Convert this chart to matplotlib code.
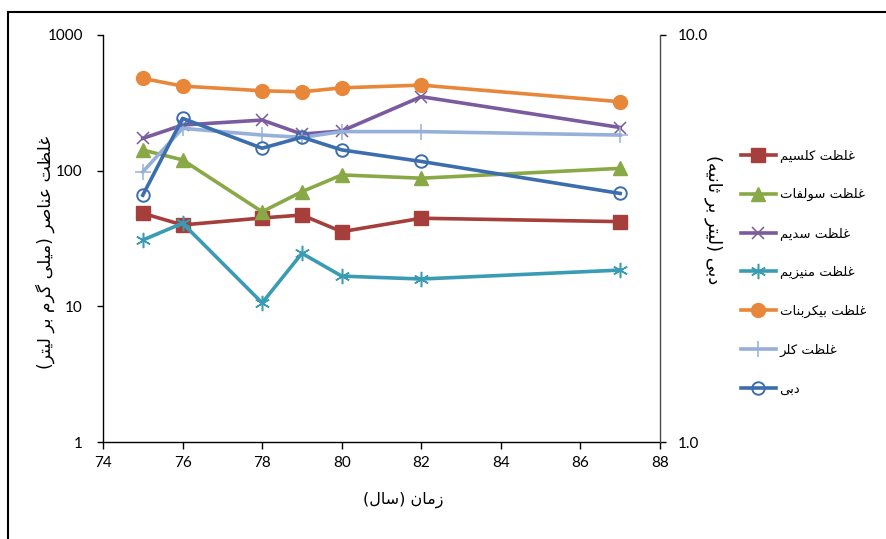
import matplotlib
matplotlib.use("Agg")
import matplotlib.pyplot as plt
from matplotlib.lines import Line2D
from matplotlib.ticker import FixedLocator, FixedFormatter, NullLocator

# ---- data -------------------------------------------------------------
years = [75, 76, 78, 79, 80, 82, 87]
calcium = [48.5, 39.8, 44.8, 47.1, 35.5, 44.6, 42.1]
sulfate = [142, 120, 49.8, 70, 93, 88, 104]
sodium = [173, 217, 236, 186, 196, 351, 208]
magnesium = [30.8, 41, 10.6, 24.6, 16.7, 15.9, 18.5]
bicarbonate = [479, 420, 388, 381, 408, 427, 322]
chloride = [98, 205, 183, 176, 194, 194, 183]
discharge = [4.04, 6.24, 5.27, 5.61, 5.22, 4.89, 4.08]

x_ticks = [74, 76, 78, 80, 82, 84, 86, 88]
left_ticks = [1, 10, 100, 1000]
left_tick_labels = ["1", "10", "100", "1000"]
right_ticks = [1, 10]
right_tick_labels = ["1.0", "10.0"]

series_names = ["غلظت کلسیم", "غلظت سولفات", "غلظت سدیم", "غلظت منیزیم",
                "غلظت بیکربنات", "غلظت کلر", "دبی"]
x_title = "زمان (سال)"
left_title = "غلظت عناصر (میلی گرم بر لیتر)"
right_title = "دبی (لیتر بر ثانیه)"

# ---- minimal Arabic-script shaping (contextual forms + visual order) ----
FORMS = {
    'ا': ('\uFE8D', '\uFE8E', None, None),
    'ب': ('\uFE8F', '\uFE90', '\uFE91', '\uFE92'),
    'ت': ('\uFE95', '\uFE96', '\uFE97', '\uFE98'),
    'ث': ('\uFE99', '\uFE9A', '\uFE9B', '\uFE9C'),
    'د': ('\uFEA9', '\uFEAA', None, None),
    'ر': ('\uFEAD', '\uFEAE', None, None),
    'ز': ('\uFEAF', '\uFEB0', None, None),
    'س': ('\uFEB1', '\uFEB2', '\uFEB3', '\uFEB4'),
    'ص': ('\uFEB9', '\uFEBA', '\uFEBB', '\uFEBC'),
    'ظ': ('\uFEC5', '\uFEC6', '\uFEC7', '\uFEC8'),
    'ع': ('\uFEC9', '\uFECA', '\uFECB', '\uFECC'),
    'غ': ('\uFECD', '\uFECE', '\uFECF', '\uFED0'),
    'ف': ('\uFED1', '\uFED2', '\uFED3', '\uFED4'),
    'ل': ('\uFEDD', '\uFEDE', '\uFEDF', '\uFEE0'),
    'م': ('\uFEE1', '\uFEE2', '\uFEE3', '\uFEE4'),
    'ن': ('\uFEE5', '\uFEE6', '\uFEE7', '\uFEE8'),
    'ه': ('\uFEE9', '\uFEEA', '\uFEEB', '\uFEEC'),
    'و': ('\uFEED', '\uFEEE', None, None),
    'ی': ('\uFBFC', '\uFBFD', '\uFBFE', '\uFBFF'),
    'ک': ('\uFB8E', '\uFB8F', '\uFB90', '\uFB91'),
    'گ': ('\uFB92', '\uFB93', '\uFB94', '\uFB95'),
}


def shape(text):
    def links_forward(c):
        return c in FORMS and FORMS[c][2] is not None

    out = []
    for i, c in enumerate(text):
        if c not in FORMS:
            out.append(c)
            continue
        prev = text[i - 1] if i > 0 else None
        nxt = text[i + 1] if i + 1 < len(text) else None
        jp = prev is not None and links_forward(prev)
        jn = nxt is not None and nxt in FORMS and links_forward(c)
        iso, fin, ini, med = FORMS[c]
        out.append(med if (jp and jn) else fin if jp else ini if jn else iso)
    visual = "".join(out)[::-1]
    return visual.translate(str.maketrans("()", ")("))


# ---- figure -------------------------------------------------------------
W, H = 886, 539
fig = plt.figure(figsize=(W / 100, H / 100), dpi=100)
fig.patch.set_facecolor("white")

L, R, T, B = 103, 660, 35, 442
ax = fig.add_axes([L / W, 1 - B / H, (R - L) / W, (B - T) / H])
ax2 = ax.twinx()

num_font = ["Lato", "DejaVu Sans"]
fa_font = ["DejaVu Sans"]

colors = {
    "ca": "#A63E3B", "so4": "#88A946", "na": "#7A5B9E", "mg": "#3A9BB4",
    "hco3": "#E8873A", "cl": "#96B0D9", "q": "#3C6EAD",
}
lw = 2.6

ax.plot(years, calcium, color=colors["ca"], lw=lw, marker="s", ms=9.5,
        mfc=colors["ca"], mec=colors["ca"], label=shape(series_names[0]), zorder=3)
ax.plot(years, sulfate, color=colors["so4"], lw=lw, marker="^", ms=10,
        mfc=colors["so4"], mec=colors["so4"], label=shape(series_names[1]), zorder=3)
ax.plot(years, sodium, color=colors["na"], lw=lw, marker="x", ms=9,
        mew=1.1, mec=colors["na"], label=shape(series_names[2]), zorder=3)
ax.plot(years, magnesium, color=colors["mg"], lw=lw, marker=(6, 2, 0), ms=11,
        mew=1.1, mec=colors["mg"], label=shape(series_names[3]), zorder=3)
ax.plot(years, bicarbonate, color=colors["hco3"], lw=lw, marker="o", ms=10,
        mfc=colors["hco3"], mec=colors["hco3"], label=shape(series_names[4]), zorder=3)
ax.plot(years, chloride, color=colors["cl"], lw=lw, marker="+", ms=11,
        mew=1.1, mec=colors["cl"], label=shape(series_names[5]), zorder=3)
ax2.plot(years, discharge, color=colors["q"], lw=lw, marker="o", ms=9,
         mfc="none", mec=colors["q"], mew=1.4, label=shape(series_names[6]), zorder=3)

# axes scales and ticks
ax.set_xlim(74, 88)
ax.set_yscale("log")
ax.set_ylim(1, 1000)
ax2.set_yscale("log")
ax2.set_ylim(1, 10)

ax.xaxis.set_major_locator(FixedLocator(x_ticks))
ax.yaxis.set_major_locator(FixedLocator(left_ticks))
ax.yaxis.set_major_formatter(FixedFormatter(left_tick_labels))
ax.yaxis.set_minor_locator(NullLocator())
ax2.yaxis.set_major_locator(FixedLocator(right_ticks))
ax2.yaxis.set_major_formatter(FixedFormatter(right_tick_labels))
ax2.yaxis.set_minor_locator(NullLocator())

for a in (ax, ax2):
    a.spines["top"].set_visible(False)
    a.patch.set_visible(False)
ax.spines["right"].set_visible(False)
ax2.spines["left"].set_visible(False)
ax2.spines["bottom"].set_visible(False)
ax.spines["left"].set_color("black")
ax.spines["bottom"].set_color("black")
ax2.spines["right"].set_color("#4a4a4a")
for s in ("left", "bottom"):
    ax.spines[s].set_linewidth(1.0)
ax2.spines["right"].set_linewidth(1.0)

ax.tick_params(axis="x", direction="out", length=5, width=1, pad=5,
               labelsize=11, colors="black")
ax.tick_params(axis="y", direction="out", length=4.5, width=1, pad=10,
               labelsize=11, colors="black")
ax2.tick_params(axis="y", direction="out", length=4.5, width=1, pad=8,
                labelsize=11, colors="black")
for lab in ax.get_xticklabels() + ax.get_yticklabels() + ax2.get_yticklabels():
    lab.set_family(num_font)

# axis titles
fig.text(403 / W, 1 - 500 / H, shape(x_title), family=fa_font, fontsize=11.5,
         ha="center", va="center", color="black")
fig.text(45 / W, 1 - 252 / H, shape(left_title), family=fa_font, fontsize=12.3,
         ha="center", va="center", rotation=90, color="black")
fig.text(713 / W, 1 - 220 / H, shape(right_title), family=fa_font, fontsize=12.8,
         ha="center", va="center", rotation=270, color="black")

# legend
h1, l1 = ax.get_legend_handles_labels()
h2, l2 = ax2.get_legend_handles_labels()
fig.legend(h1 + h2, l1 + l2, loc="upper left",
           bbox_to_anchor=(734 / W, 1 - 143 / H), frameon=False,
           prop={"family": fa_font, "size": 9.5}, handlelength=2.7,
           handletextpad=0.25, labelspacing=1.95, borderpad=0)

# chart frame
fig.add_artist(Line2D([8 / W, 8 / W], [0, 1 - 12 / H], transform=fig.transFigure,
                      color="black", lw=1.5))
fig.add_artist(Line2D([8 / W, 1], [1 - 12 / H, 1 - 12 / H], transform=fig.transFigure,
                      color="black", lw=1.5))

fig.savefig("out.png", dpi=100, facecolor="white")
